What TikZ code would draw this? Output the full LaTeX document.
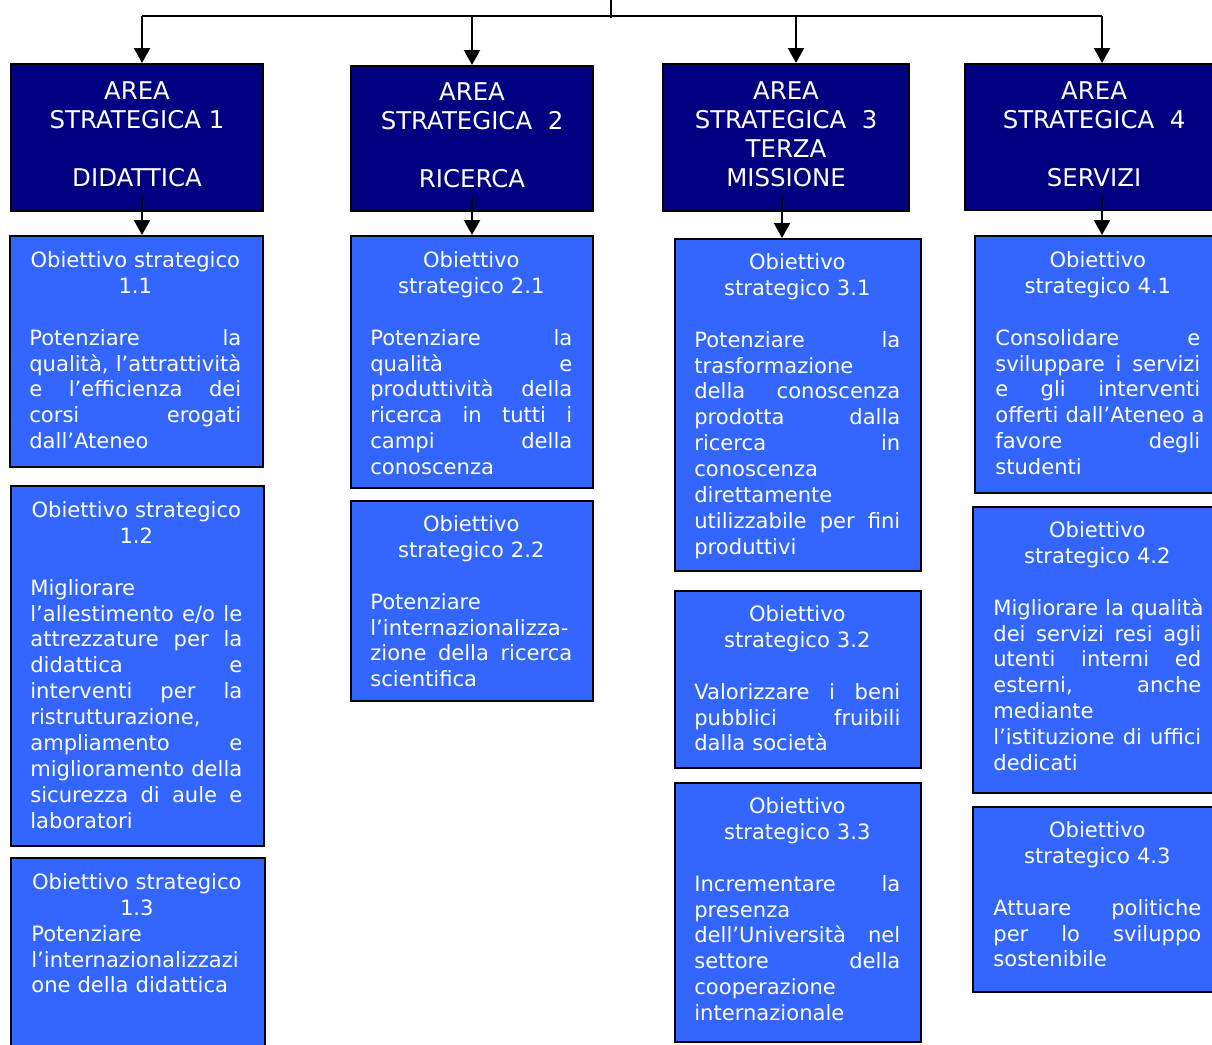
\documentclass[tikz,border=0pt]{standalone}
\usepackage{fontspec}
\setmainfont{DejaVu Sans}
\usetikzlibrary{arrows.meta}
\definecolor{areanavy}{HTML}{000080}
\definecolor{objblue}{HTML}{3366FF}
\newcommand{\jl}[1]{\leavevmode\hbox to\hsize{\spaceskip=0.33em plus 1fil\relax #1}}
\newcommand{\cl}[1]{\makebox[\hsize]{#1}}
\newcommand{\lowstrut}{\rule[-0.12cm]{0pt}{0pt}}

\begin{document}
\begin{tikzpicture}[x=0.02cm, y=-0.02cm,
  areabox/.style={draw=black, line width=1.2pt, fill=areanavy, text=white, anchor=north west,
    inner sep=0pt, align=center, font=\fontsize{13.9}{16.5}\selectfont},
  objbox/.style={draw=black, line width=1.2pt, fill=objblue, anchor=north west, inner sep=0pt},
  objtext/.style={text=white, anchor=north west, inner sep=0pt, align=left,
    font=\fontsize{12}{14.74}\selectfont},
  arr/.style={line width=1.3pt, -{Triangle[width=0.32cm,length=0.3cm]}}]

  \useasboundingbox (0,0) rectangle (1212,1044);

  % strategic areas
  \node[areabox, minimum width=5.04cm, minimum height=2.94cm] (a1) at (10,63) {AREA\\STRATEGICA 1\\[16.5pt]DIDATTICA\lowstrut};
  \node[areabox, minimum width=4.84cm, minimum height=2.90cm] (a2) at (350,65) {AREA\\STRATEGICA~~2\\[16.5pt]RICERCA\lowstrut};
  \node[areabox, minimum width=4.92cm, minimum height=2.94cm] (a3) at (662,63) {AREA\\STRATEGICA~~3\\TERZA\\MISSIONE\lowstrut};
  \node[areabox, minimum width=5.16cm, minimum height=2.92cm] (a4) at (964,63) {AREA\\STRATEGICA~~4\\[16.5pt]SERVIZI\lowstrut};

  % objectives, column 1
  \node[objbox, minimum width=5.06cm, minimum height=4.62cm] (o11) at (9,235) {};
  \node[objbox, minimum width=5.06cm, minimum height=7.20cm] (o12) at (10,485) {};
  \node[objbox, minimum width=5.08cm, minimum height=4.06cm] (o13) at (10,857) {};
  % column 2
  \node[objbox, minimum width=4.84cm, minimum height=5.04cm] (o21) at (350,235) {};
  \node[objbox, minimum width=4.84cm, minimum height=4.00cm] (o22) at (350,500) {};
  % column 3
  \node[objbox, minimum width=4.92cm, minimum height=6.64cm] (o31) at (674,238) {};
  \node[objbox, minimum width=4.92cm, minimum height=3.54cm] (o32) at (674,590) {};
  \node[objbox, minimum width=4.92cm, minimum height=5.18cm] (o33) at (674,782) {};
  % column 4
  \node[objbox, minimum width=4.96cm, minimum height=5.14cm] (o41) at (974,235) {};
  \node[objbox, minimum width=5.00cm, minimum height=5.72cm] (o42) at (972,506) {};
  \node[objbox, minimum width=5.00cm, minimum height=3.70cm] (o43) at (972,806) {};

  % texts of the objectives
  \node[objtext, text width=4.24cm] (t11) at ([xshift=0.4cm,yshift=-0.32cm]o11.north west)
    {\cl{Obiettivo strategico}\\\cl{1.1}\\[0.52cm]
     \jl{Potenziare la}\\\jl{qualità, l’attrattività}\\\jl{e l’efficienza dei}\\\jl{corsi erogati}\\dall’Ateneo};
  \node[objtext, text width=4.24cm] (t12) at ([xshift=0.4cm,yshift=-0.32cm]o12.north west)
    {\cl{Obiettivo strategico}\\\cl{1.2}\\[0.52cm]
     Migliorare\\\jl{l’allestimento e/o le}\\\jl{attrezzature per la}\\\jl{didattica e}\\
     \jl{interventi per la}\\ristrutturazione,\\\jl{ampliamento e}\\\jl{miglioramento della}\\
     \jl{sicurezza di aule e}\\laboratori};
  \node[objtext, text width=4.22cm] (t13) at ([xshift=0.42cm,yshift=-0.32cm]o13.north west)
    {\cl{Obiettivo strategico}\\\cl{1.3}\\
     Potenziare\\l’internazionalizzazi\\one della didattica};
  \node[objtext, text width=4.04cm] (t21) at ([xshift=0.4cm,yshift=-0.32cm]o21.north west)
    {\cl{Obiettivo}\\\cl{strategico 2.1}\\[0.52cm]
     \jl{Potenziare la}\\\jl{qualità e}\\\jl{produttività della}\\\jl{ricerca in tutti i}\\
     \jl{campi della}\\conoscenza};
  \node[objtext, text width=4.04cm] (t22) at ([xshift=0.4cm,yshift=-0.30cm]o22.north west)
    {\cl{Obiettivo}\\\cl{strategico 2.2}\\[0.52cm]
     Potenziare\\l’internazionalizza-\\\jl{zione della ricerca}\\scientifica};
  \node[objtext, text width=4.12cm] (t31) at ([xshift=0.4cm,yshift=-0.30cm]o31.north west)
    {\cl{Obiettivo}\\\cl{strategico 3.1}\\[0.52cm]
     \jl{Potenziare la}\\trasformazione\\\jl{della conoscenza}\\\jl{prodotta dalla}\\
     \jl{ricerca in}\\conoscenza\\direttamente\\\jl{utilizzabile per fini}\\produttivi};
  \node[objtext, text width=4.12cm] (t32) at ([xshift=0.4cm,yshift=-0.30cm]o32.north west)
    {\cl{Obiettivo}\\\cl{strategico 3.2}\\[0.52cm]
     \jl{Valorizzare i beni}\\\jl{pubblici fruibili}\\dalla società};
  \node[objtext, text width=4.12cm] (t33) at ([xshift=0.4cm,yshift=-0.30cm]o33.north west)
    {\cl{Obiettivo}\\\cl{strategico 3.3}\\[0.52cm]
     \jl{Incrementare la}\\presenza\\\jl{dell’Università nel}\\\jl{settore della}\\
     cooperazione\\internazionale};
  \node[objtext, text width=4.1cm] (t41) at ([xshift=0.42cm,yshift=-0.32cm]o41.north west)
    {\cl{Obiettivo}\\\cl{strategico 4.1}\\[0.52cm]
     \jl{Consolidare e}\\\jl{sviluppare i servizi}\\\jl{e gli interventi}\\
     \jl{offerti dall’Ateneo a}\\\jl{favore degli}\\studenti};
  \node[objtext, text width=4.16cm] (t42) at ([xshift=0.42cm,yshift=-0.30cm]o42.north west)
    {\cl{Obiettivo}\\\cl{strategico 4.2}\\[0.52cm]
     \jl{Migliorare la qualità}\\\jl{dei servizi resi agli}\\\jl{utenti interni ed}\\
     \jl{esterni, anche}\\mediante\\\jl{l’istituzione di uffici}\\dedicati};
  \node[objtext, text width=4.16cm] (t43) at ([xshift=0.42cm,yshift=-0.30cm]o43.north west)
    {\cl{Obiettivo}\\\cl{strategico 4.3}\\[0.52cm]
     \jl{Attuare politiche}\\\jl{per lo sviluppo}\\sostenibile};

  % connectors
  \coordinate (root) at (611,0);
  \coordinate (junc) at (611,18);
  \coordinate (b1) at (142,16);
  \coordinate (b2) at (472,16);
  \coordinate (b3) at (796,16);
  \coordinate (b4) at (1102,16);
  \coordinate (s1) at (142,197);
  \coordinate (s2) at (472,197);
  \coordinate (s3) at (782,197);
  \coordinate (s4) at (1102,197);
  \draw[line width=1.3pt] (root) -- (junc);
  \draw[line width=1.3pt] (b1) -- (b4);
  \draw[arr] (b1) -- (b1 |- a1.north);
  \draw[arr] (b2) -- (b2 |- a2.north);
  \draw[arr] (b3) -- (b3 |- a3.north);
  \draw[arr] (b4) -- (b4 |- a4.north);
  \draw[arr] (s1) -- (s1 |- o11.north);
  \draw[arr] (s2) -- (s2 |- o21.north);
  \draw[arr] (s3) -- (s3 |- o31.north);
  \draw[arr] (s4) -- (s4 |- o41.north);
\end{tikzpicture}
\end{document}
